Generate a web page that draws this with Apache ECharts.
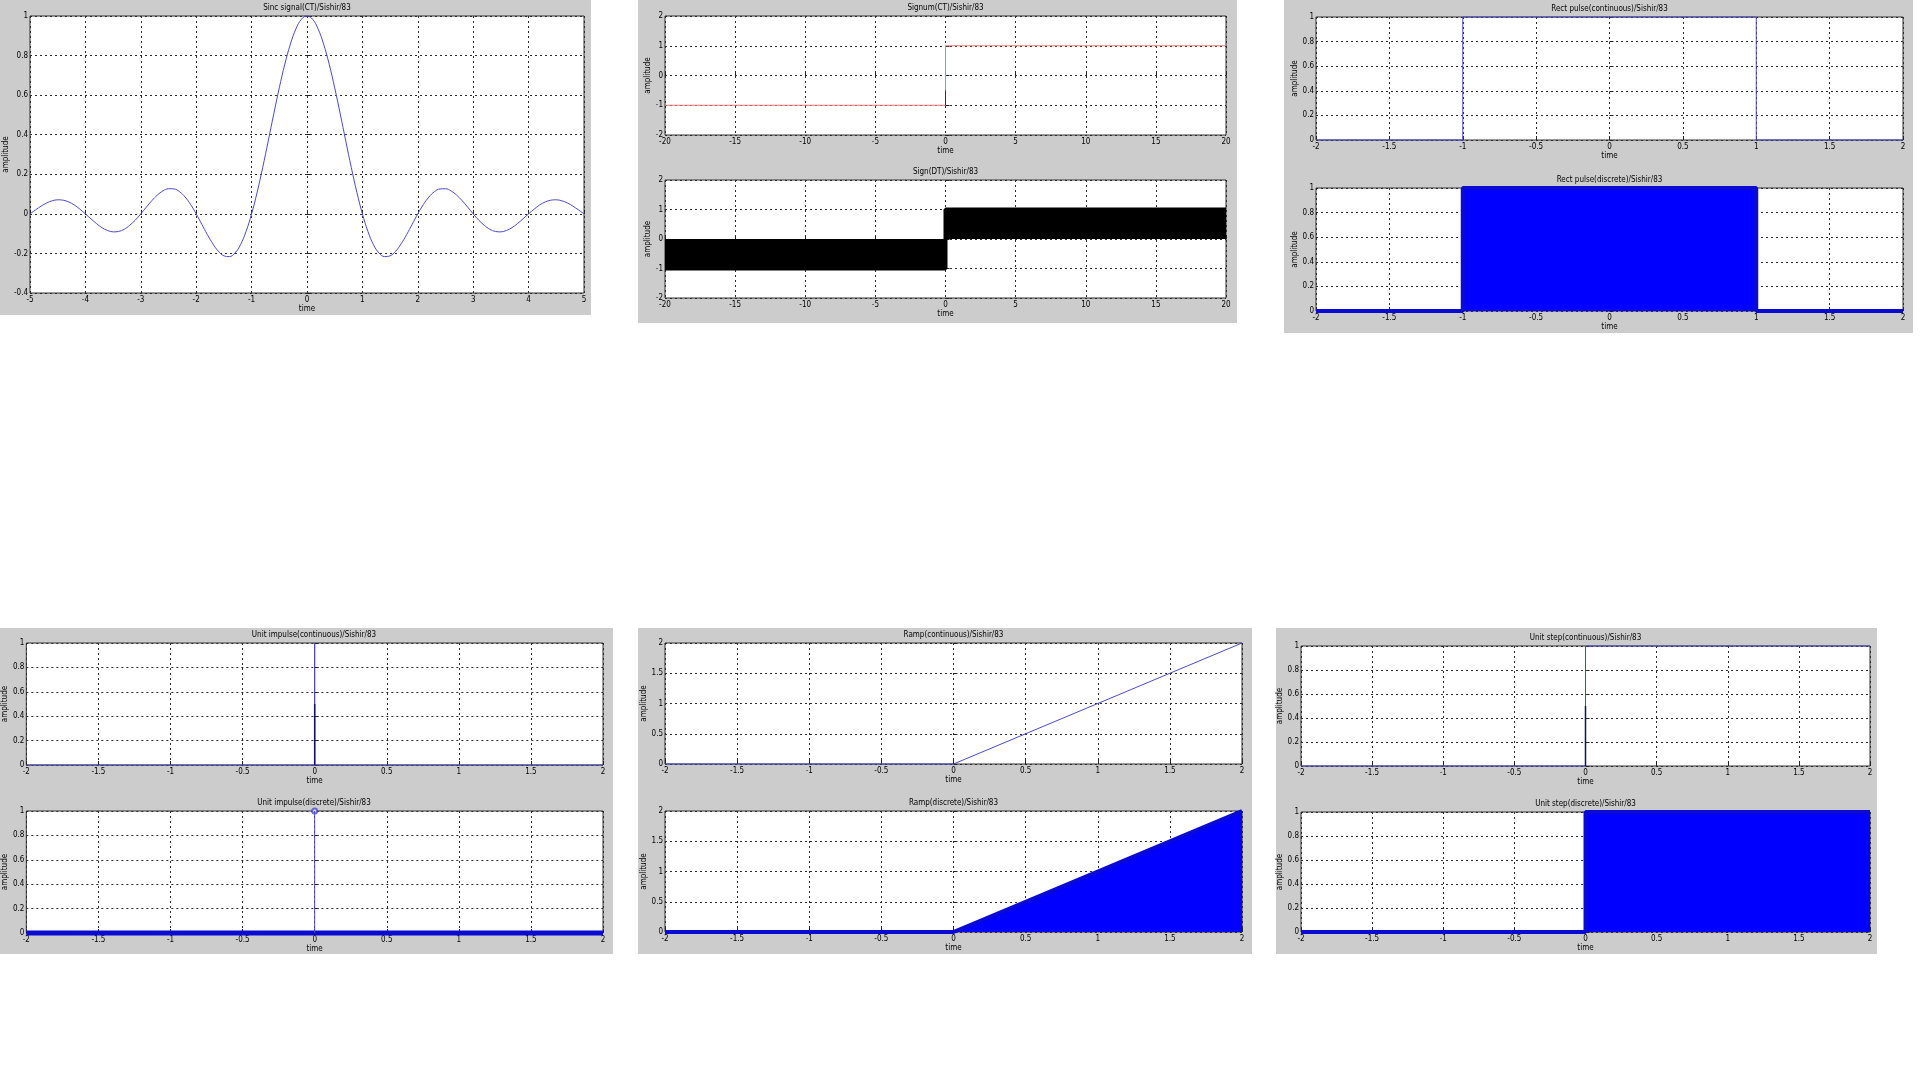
<!DOCTYPE html>
<html>
<head>
<meta charset="utf-8">
<script src="https://cdn.jsdelivr.net/npm/echarts@6/dist/echarts.min.js"></script>
<style>
  html, body { margin: 0; padding: 0; background: #ffffff; }
  #wrap { position: relative; width: 1920px; height: 1080px; overflow: hidden; }
  .panel { position: absolute; background: #cccccc; }
  #chart { position: absolute; left: 0; top: 0; width: 1920px; height: 1080px; }
</style>
</head>
<body>
<div id="wrap">
  <div class="panel" style="left:0px;top:0px;width:591px;height:315px"></div>
  <div class="panel" style="left:638px;top:0px;width:599px;height:323px"></div>
  <div class="panel" style="left:1284px;top:0px;width:629px;height:333px"></div>
  <div class="panel" style="left:0px;top:628px;width:613px;height:326px"></div>
  <div class="panel" style="left:638px;top:628px;width:614px;height:326px"></div>
  <div class="panel" style="left:1276px;top:628px;width:601px;height:326px"></div>
  <div id="chart"></div>
</div>
<script>
// ---------------- data ----------------
const sincTime = [-5,-4.9,-4.8,-4.7,-4.6,-4.5,-4.4,-4.3,-4.2,-4.1,-4,-3.9,-3.8,-3.7,-3.6,-3.5,-3.4,-3.3,-3.2,-3.1,-3,-2.9,-2.8,-2.7,-2.6,-2.5,-2.4,-2.3,-2.2,-2.1,-2,-1.9,-1.8,-1.7,-1.6,-1.5,-1.4,-1.3,-1.2,-1.1,-1,-0.9,-0.8,-0.7,-0.6,-0.5,-0.4,-0.3,-0.2,-0.1,0,0.1,0.2,0.3,0.4,0.5,0.6,0.7,0.8,0.9,1,1.1,1.2,1.3,1.4,1.5,1.6,1.7,1.8,1.9,2,2.1,2.2,2.3,2.4,2.5,2.6,2.7,2.8,2.9,3,3.1,3.2,3.3,3.4,3.5,3.6,3.7,3.8,3.9,4,4.1,4.2,4.3,4.4,4.5,4.6,4.7,4.8,4.9,5];
const sincAmp = [0,0.020,0.039,0.055,0.066,0.071,0.069,0.060,0.045,0.024,0,-0.025,-0.049,-0.070,-0.084,-0.091,-0.089,-0.078,-0.058,-0.032,0,0.034,0.067,0.095,0.116,0.127,0.126,0.112,0.085,0.047,0,-0.052,-0.104,-0.151,-0.189,-0.212,-0.216,-0.198,-0.156,-0.089,0,0.109,0.234,0.368,0.505,0.637,0.757,0.858,0.935,0.984,1,0.984,0.935,0.858,0.757,0.637,0.505,0.368,0.234,0.109,0,-0.089,-0.156,-0.198,-0.216,-0.212,-0.189,-0.151,-0.104,-0.052,0,0.047,0.085,0.112,0.126,0.127,0.116,0.095,0.067,0.034,0,-0.032,-0.058,-0.078,-0.089,-0.091,-0.084,-0.070,-0.049,-0.025,0,0.024,0.045,0.060,0.069,0.071,0.066,0.055,0.039,0.020,0];

const signumTime = [-20, 0, 0, 20];
const signumAmp = [-1, -1, 1, 1];
const signumDarkTime = [0, 0];
const signumDarkAmp = [-1, -0.5];
const signDTTime = [-20, 0, 0, 20];
const signDTAmp = [-1, -1, 1, 1];

const rectTime = [-2, -1, -1, 1, 1, 2];
const rectAmp = [0, 0, 1, 1, 0, 0];

const impulseContTime = [-2, 0, 0, 0, 2];
const impulseContAmp = [0, 0, 1, 0, 0];
const impulseDarkTime = [0, 0];
const impulseDarkAmp = [0, 0.5];
const impulseBaseTime = [-2, 2];
const impulseBaseAmp = [0, 0];
const impulseStemTime = [0, 0];
const impulseStemAmp = [0, 1];

const rampTime = [-2, 0, 2];
const rampAmp = [0, 0, 2];

const stepTime = [-2, 0, 0, 2];
const stepAmp = [0, 0, 1, 1];
const stepDarkTime = [0, 0];
const stepDarkAmp = [0, 0.5];

const titles = [
  'Sinc signal(CT)/Sishir/83',
  'Signum(CT)/Sishir/83',
  'Sign(DT)/Sishir/83',
  'Rect pulse(continuous)/Sishir/83',
  'Rect pulse(discrete)/Sishir/83',
  'Unit impulse(continuous)/Sishir/83',
  'Unit impulse(discrete)/Sishir/83',
  'Ramp(continuous)/Sishir/83',
  'Ramp(discrete)/Sishir/83',
  'Unit step(continuous)/Sishir/83',
  'Unit step(discrete)/Sishir/83'
];
const xLabel = 'time';
const yLabel = 'amplitude';

// ---------------- layout ----------------
const FONT = '"Liberation Sans Narrow", "DejaVu Sans Condensed", "Liberation Sans", Arial, sans-serif';
const FS = 8;
const subs = [
  { l: 30,   t: 16,  w: 554, h: 277, xr: [-5, 5, 1],    yr: [-0.4, 1, 0.2], ng: 17 },
  { l: 665,  t: 16,  w: 561, h: 119, xr: [-20, 20, 5],  yr: [-2, 2, 1],     ng: 13 },
  { l: 665,  t: 180, w: 561, h: 118, xr: [-20, 20, 5],  yr: [-2, 2, 1],     ng: 13 },
  { l: 1316, t: 17,  w: 587, h: 123, xr: [-2, 2, 0.5],  yr: [0, 1, 0.2],    ng: 16 },
  { l: 1316, t: 188, w: 587, h: 123, xr: [-2, 2, 0.5],  yr: [0, 1, 0.2],    ng: 16 },
  { l: 25,   t: 643, w: 578, h: 122, xr: [-2, 2, 0.5],  yr: [0, 1, 0.2],    ng: 16 },
  { l: 25,   t: 811, w: 578, h: 122, xr: [-2, 2, 0.5],  yr: [0, 1, 0.2],    ng: 16 },
  { l: 665,  t: 643, w: 577, h: 121, xr: [-2, 2, 0.5],  yr: [0, 2, 0.5],    ng: 16 },
  { l: 665,  t: 811, w: 577, h: 121, xr: [-2, 2, 0.5],  yr: [0, 2, 0.5],    ng: 16 },
  { l: 1301, t: 646, w: 569, h: 120, xr: [-2, 2, 0.5],  yr: [0, 1, 0.2],    ng: 15 },
  { l: 1301, t: 812, w: 569, h: 120, xr: [-2, 2, 0.5],  yr: [0, 1, 0.2],    ng: 15 }
];

const grids = [], xAxes = [], yAxes = [], graphics = [];
const split = { show: true, lineStyle: { color: '#2a2a2a', type: [2, 3], width: 1 } };
const tick = { show: true, inside: true, length: 4, lineStyle: { color: '#222' } };
const lab = { fontSize: FS, color: '#000', fontFamily: FONT, margin: 3 };
subs.forEach((s, i) => {
  grids.push({ left: s.l, top: s.t, width: s.w, height: s.h, show: true,
    backgroundColor: '#ffffff', borderColor: '#333', borderWidth: 1, containLabel: false });
  xAxes.push({ type: 'value', gridIndex: i, min: s.xr[0], max: s.xr[1], interval: s.xr[2],
    axisLine: { show: false }, axisTick: tick, axisLabel: lab, splitLine: split,
    name: xLabel, nameLocation: 'middle', nameGap: 12,
    nameTextStyle: { fontSize: FS, color: '#000', fontFamily: FONT } });
  yAxes.push({ type: 'value', gridIndex: i, min: s.yr[0], max: s.yr[1], interval: s.yr[2],
    axisLine: { show: false }, axisTick: tick, axisLabel: Object.assign({}, lab, { margin: 2 }), splitLine: split,
    name: yLabel, nameLocation: 'middle', nameGap: s.ng, nameRotate: 90,
    nameTextStyle: { fontSize: FS, color: '#000', fontFamily: FONT } });
  graphics.push({ type: 'text', x: s.l + s.w / 2, y: s.t - 8,
    style: { text: titles[i], fill: '#000', font: FS + 'px ' + FONT, textAlign: 'center', textVerticalAlign: 'middle' } });
});

function pairs(xs, ys) { return xs.map((x, k) => [x, ys[k]]); }
const thin = '#4a4ac8';
function lineS(idx, xs, ys, color, width, extra) {
  return Object.assign({ type: 'line', xAxisIndex: idx, yAxisIndex: idx, data: pairs(xs, ys),
    showSymbol: false, symbol: 'none', clip: false, animation: false, silent: true,
    lineStyle: { color: color, width: width } }, extra || {});
}
const fillBlue = { areaStyle: { color: '#0000ff', opacity: 1 } };

const series = [
  lineS(0, sincTime, sincAmp, thin, 1, { smooth: 0.4 }),
  lineS(1, signumTime, signumAmp, '#ee7777', 1),
  lineS(1, signumDarkTime, signumDarkAmp, '#333333', 1),
  lineS(2, signDTTime, signDTAmp, '#000000', 4, { areaStyle: { color: '#000000', opacity: 1 } }),
  lineS(3, rectTime, rectAmp, thin, 1),
  lineS(4, rectTime, rectAmp, '#0a0ad2', 4, fillBlue),
  lineS(5, impulseContTime, impulseContAmp, thin, 1),
  lineS(5, impulseDarkTime, impulseDarkAmp, '#101060', 1.5),
  lineS(6, impulseBaseTime, impulseBaseAmp, '#0a0ad2', 5),
  lineS(6, impulseStemTime, impulseStemAmp, thin, 1),
  { type: 'scatter', xAxisIndex: 6, yAxisIndex: 6, data: [[impulseStemTime[1], impulseStemAmp[1]]],
    symbol: 'emptyCircle', symbolSize: 5, itemStyle: { color: thin, borderColor: thin, borderWidth: 1 },
    clip: false, animation: false, silent: true },
  lineS(7, rampTime, rampAmp, thin, 1),
  lineS(8, rampTime, rampAmp, '#0a0ad2', 4, fillBlue),
  lineS(9, stepTime, stepAmp, thin, 1),
  lineS(9, stepDarkTime, stepDarkAmp, '#101060', 1.5),
  lineS(10, stepTime, stepAmp, '#0a0ad2', 4, fillBlue)
];

const chart = echarts.init(document.getElementById('chart'), null, { renderer: 'canvas' });
chart.setOption({
  backgroundColor: 'transparent',
  animation: false,
  textStyle: { fontFamily: FONT },
  grid: grids,
  xAxis: xAxes,
  yAxis: yAxes,
  series: series,
  graphic: graphics
});
</script>
</body>
</html>
